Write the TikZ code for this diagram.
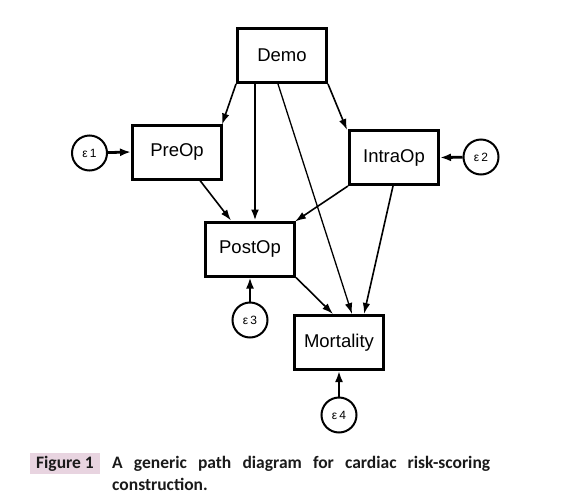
\documentclass[tikz,border=0pt]{standalone}
\usepackage{fontspec}
\setmainfont{Liberation Sans}
\newfontfamily\capfont{Carlito}
\usetikzlibrary{arrows.meta,calc}
\definecolor{figpink}{HTML}{E8D4E0}
\definecolor{captxt}{HTML}{1A1A1A}
\begin{document}
\begin{tikzpicture}[x=1pt,y=-1pt,
  varbox/.style={draw,line width=3pt,minimum width=89pt,minimum height=54pt,inner sep=0pt,font=\fontsize{18.5}{21}\selectfont},
  errc/.style={draw,circle,line width=2pt,minimum size=35pt,inner sep=0pt,font=\fontsize{12}{14}\selectfont},
  path/.style={line width=1.6pt,-{Latex[length=11pt,width=7.5pt]}},
  thickpath/.style={line width=2.8pt,-{Latex[length=11pt,width=8pt]}}]
\useasboundingbox (0,0) rectangle (579,496);

\node[varbox] (demo) at (282,55.5) {Demo};
\node[varbox] (preop) at (177,152) {PreOp};
\node[varbox] (intra) at (394,157.5) {IntraOp};
\node[varbox] (post) at (250,249) {PostOp};
\node[varbox] (mort) at (339,342.5) {Mortality};

\node[errc] (e1) at (89.5,153) {ε\,1};
\node[errc] (e2) at (481,157) {ε\,2};
\node[errc] (e3) at (250,320) {ε\,3};
\node[errc] (e4) at (339,415) {ε\,4};

\draw[path] (demo.south west) -- ([xshift=-1pt,yshift=-1pt]preop.north east);
\draw[thickpath] ([xshift=-27pt]demo.south) -- ([xshift=-27pt]demo.south |- post.north);
\draw[line width=1.3pt,-{Latex[length=11pt,width=7.5pt]}] ([xshift=-4pt]demo.south) -- ([xshift=13pt]mort.north);
\draw[path] (demo.south east) -- ([xshift=-1pt,yshift=-1pt]intra.north west);
\draw[path] ([xshift=23pt]preop.south) -- ([xshift=-19pt]post.north);
\draw[path] (intra.south west) -- ([xshift=-1pt,yshift=-1pt]post.north east);
\draw[path] ([xshift=-1pt]intra.south) -- ([xshift=25pt]mort.north);
\draw[path] (post.south east) -- ([xshift=-6pt]mort.north);

\draw[thickpath] (e1) -- (preop.west);
\draw[thickpath] (e2) -- (intra.east);
\draw[thickpath] (e3) -- (e3 |- post.south);
\draw[thickpath] (e4) -- (mort.south);

\node[fill=figpink,minimum width=70pt,minimum height=21pt,inner sep=0pt,text=captxt,font=\capfont\bfseries\fontsize{17.5}{20}\selectfont] (fig) at (65,463.5) {Figure 1};
\node[anchor=base west,text width=378pt,align=justify,inner sep=0pt,text=captxt,font=\capfont\bfseries\fontsize{17.5}{22}\selectfont] (cap) at (112,468) {\hyphenpenalty=10000 A generic path diagram for cardiac risk-scoring\linebreak construction.};
\end{tikzpicture}
\end{document}
